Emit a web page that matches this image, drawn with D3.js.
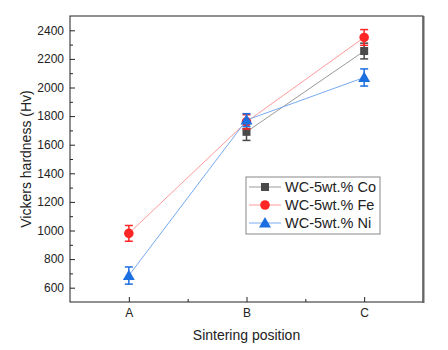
<!DOCTYPE html>
<html>
<head>
<meta charset="utf-8">
<script src="https://cdn.jsdelivr.net/npm/d3@7"></script>
<style>
  body { margin: 0; background: #fff; }
  text { font-family: Arial, "Liberation Sans", sans-serif; fill: #222; }
</style>
</head>
<body>
<div id="chart"></div>
<script>
const positions = ["A", "B", "C"];
const seriesNames = ["WC-5wt.% Co", "WC-5wt.% Fe", "WC-5wt.% Ni"];
const coValues = [null, 1690, 2255];
const coErrors = [null, 60, 55];
const feValues = [980, 1760, 2350];
const feErrors = [55, 50, 55];
const niValues = [685, 1772, 2070];
const niErrors = [60, 45, 60];
const yTicks = [600, 800, 1000, 1200, 1400, 1600, 1800, 2000, 2200, 2400];

const series = [
    {name: seriesNames[0], values: coValues, errors: coErrors, shape: "square", marker: "#4a4a4a", line: "#9a9a9a"},
    {name: seriesNames[1], values: feValues, errors: feErrors, shape: "circle", marker: "#ff2626", line: "#ff9a9a"},
    {name: seriesNames[2], values: niValues, errors: niErrors, shape: "triangle", marker: "#1c6fe0", line: "#78aaf0"}
];

const width = 448, height = 350;
const plot = {left: 70, right: 423, top: 16, bottom: 302};

const svg = d3.select("#chart").append("svg")
    .attr("width", width).attr("height", height);

// x is a linear index scale so the category ticks sit at 1, 2, 3
const x = d3.scaleLinear().domain([0.5, 3.5]).range([plot.left, plot.right]);
const y = d3.scaleLinear().domain([500, 2500]).range([plot.bottom, plot.top]);

// frame
svg.append("rect")
    .attr("x", plot.left).attr("y", plot.top)
    .attr("width", plot.right - plot.left).attr("height", plot.bottom - plot.top)
    .attr("fill", "none").attr("stroke", "#222").attr("stroke-width", 1);
svg.append("line")
    .attr("x1", plot.right + 0.5).attr("x2", plot.right + 0.5)
    .attr("y1", plot.top).attr("y2", plot.bottom + 1)
    .attr("stroke", "#666").attr("stroke-width", 2);

// y axis: ticks point inward
const yAxis = svg.append("g").attr("transform", `translate(${plot.left},0)`)
    .call(d3.axisRight(y).tickValues(yTicks).tickSize(5).tickFormat(d3.format("d")));
yAxis.select(".domain").remove();
yAxis.selectAll("line").attr("stroke", "#222");
yAxis.selectAll("text").attr("x", -6).attr("text-anchor", "end")
    .style("font-size", "12px").attr("fill", "#222");
svg.append("g").attr("transform", `translate(${plot.left},0)`)
    .call(d3.axisRight(y).tickValues(d3.range(700, 2500, 200)).tickSize(3).tickFormat(""))
    .call(g => g.select(".domain").remove())
    .selectAll("line").attr("stroke", "#222");

// x axis
const xAxis = svg.append("g").attr("transform", `translate(0,${plot.bottom})`)
    .call(d3.axisTop(x).tickValues([1, 2, 3]).tickSize(5).tickFormat(i => positions[i - 1]));
xAxis.select(".domain").remove();
xAxis.selectAll("line").attr("stroke", "#222");
xAxis.selectAll("text").attr("y", 15).attr("dy", 0).style("font-size", "12px").attr("fill", "#222");
svg.append("g").attr("transform", `translate(0,${plot.bottom})`)
    .call(d3.axisTop(x).tickValues([1.5, 2.5]).tickSize(3).tickFormat(""))
    .call(g => g.select(".domain").remove())
    .selectAll("line").attr("stroke", "#222");

// axis labels
svg.append("text")
    .attr("transform", "rotate(-90)")
    .attr("x", -(plot.top + plot.bottom) / 2).attr("y", 31)
    .attr("text-anchor", "middle").style("font-size", "14px")
    .text("Vickers hardness (Hv)");
svg.append("text")
    .attr("x", x(2)).attr("y", 340)
    .attr("text-anchor", "middle").style("font-size", "14px")
    .text("Sintering position");

const symbolFor = shape => shape === "square" ? d3.symbolSquare
    : shape === "circle" ? d3.symbolCircle : d3.symbolTriangle;
const sizeFor = shape => shape === "square" ? 64 : shape === "circle" ? 72 : 62;

function drawMarker(g, s, cx, cy) {
    g.append("path")
        .attr("d", d3.symbol().type(symbolFor(s.shape)).size(sizeFor(s.shape))())
        .attr("transform", `translate(${cx},${cy + (s.shape === "triangle" ? 1 : 0)})`)
        .attr("fill", s.marker);
}

// lines
series.forEach(s => {
    const pts = s.values.map((v, i) => ({i: i + 1, v})).filter(d => d.v != null);
    svg.append("path")
        .attr("d", d3.line().x(d => x(d.i)).y(d => y(d.v))(pts))
        .attr("fill", "none").attr("stroke", s.line).attr("stroke-width", 1);
});

// error bars and markers
series.forEach(s => {
    const g = svg.append("g");
    s.values.forEach((v, i) => {
        if (v == null) return;
        const cx = x(i + 1), e = s.errors[i];
        g.append("line").attr("x1", cx).attr("x2", cx)
            .attr("y1", y(v - e)).attr("y2", y(v + e))
            .attr("stroke", s.marker).attr("stroke-width", 1.5);
        [v - e, v + e].forEach(b => g.append("line")
            .attr("x1", cx - 4).attr("x2", cx + 4)
            .attr("y1", y(b)).attr("y2", y(b))
            .attr("stroke", s.marker).attr("stroke-width", 1.5));
        drawMarker(g, s, cx, y(v));
    });
});

// legend
const legend = svg.append("g").attr("transform", "translate(246,177)");
legend.append("rect").attr("width", 134).attr("height", 57)
    .attr("fill", "#fff").attr("stroke", "#888").attr("stroke-width", 1);
series.forEach((s, i) => {
    const row = legend.append("g").attr("transform", `translate(0,${10 + i * 18})`);
    row.append("line").attr("x1", 3).attr("x2", 35).attr("y1", 0).attr("y2", 0)
        .attr("stroke", s.line).attr("stroke-width", 1);
    drawMarker(row, s, 19, 0);
    row.append("text").attr("x", 39).attr("y", 5)
        .style("font-size", "14.5px").text(s.name);
});
</script>
</body>
</html>
